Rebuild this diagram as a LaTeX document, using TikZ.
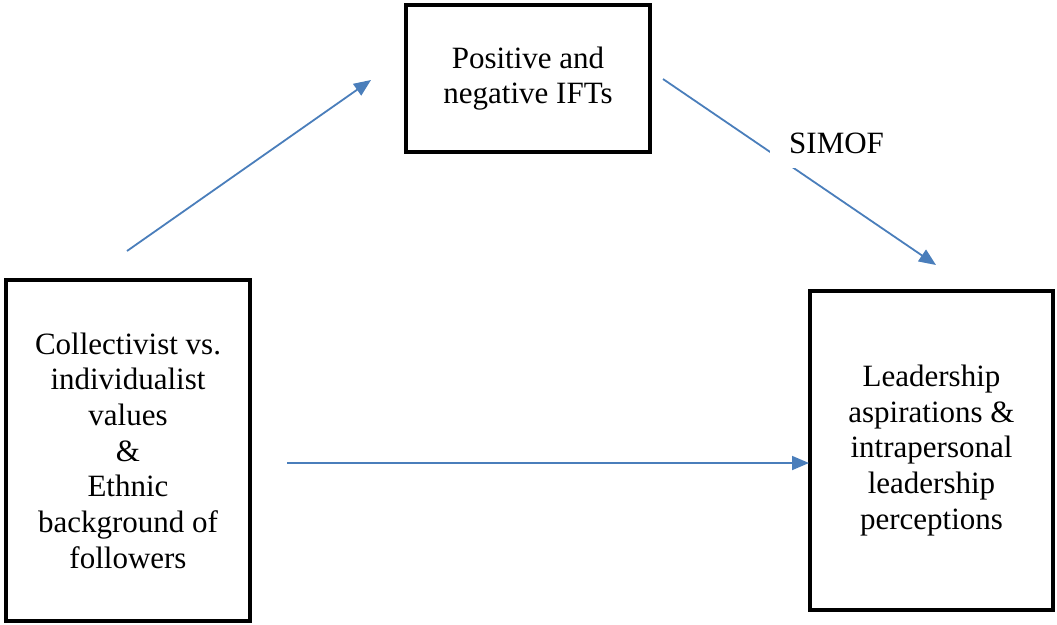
\documentclass[tikz,border=0pt]{standalone}
\usepackage{fontspec}
\setmainfont{Liberation Serif}
\usetikzlibrary{arrows.meta}
\definecolor{arrowblue}{HTML}{4A7EBB}
\begin{document}
\begin{tikzpicture}[x=1pt,y=-1pt,
  box/.style={draw=black,line width=4pt,align=center,inner sep=0pt,
    font=\fontsize{31}{35.7}\selectfont},
  link/.style={draw=arrowblue,line width=1.8pt,
    -{Triangle[length=17pt,width=14pt]}},
  lbl/.style={fill=white,font=\fontsize{31}{35.7}\selectfont,inner xsep=19pt,inner ysep=15pt}]
\useasboundingbox (0,0) rectangle (1057,624);
\node[box,minimum width=244pt,minimum height=147pt] (ift) at (528,78.5)
  {Positive and\\negative IFTs};
\node[box,minimum width=244pt,minimum height=341pt] (val) at (128,450.5)
  {Collectivist vs.\\individualist\\values\\\&\\Ethnic\\background of\\followers};
\node[box,minimum width=243pt,minimum height=319pt] (lead) at (931.5,450.5)
  {Leadership\\aspirations \&\\intrapersonal\\leadership\\perceptions};
\coordinate (a1s) at (127,251);
\coordinate (a1e) at (371,80);
\coordinate (a2s) at (663,79);
\coordinate (a2e) at (936,265);
\coordinate (a3s) at (287,463);
\coordinate (a3e) at (809,463);
\draw[link] (a1s) -- (a1e);
\draw[link] (a2s) -- (a2e);
\draw[link] (a3s) -- (a3e);
\node[lbl,anchor=base west] (simof) at (770,153) {SIMOF};
\end{tikzpicture}
\end{document}
